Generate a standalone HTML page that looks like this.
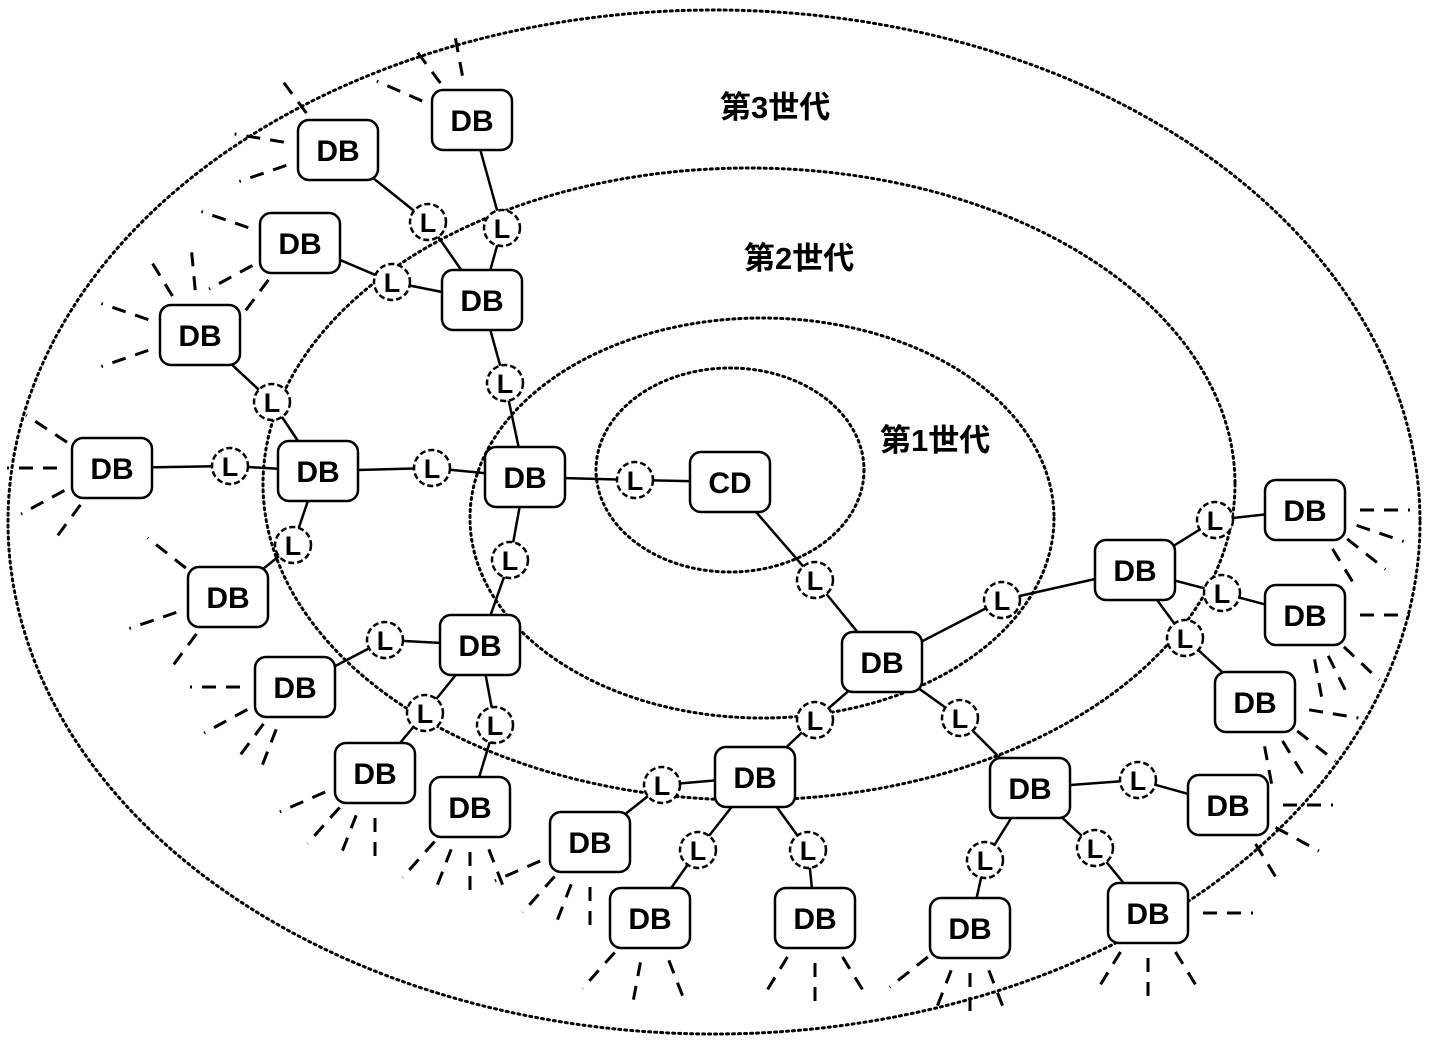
<!DOCTYPE html>
<html><head><meta charset="utf-8"><style>
html,body{margin:0;padding:0;background:#fff}
svg{display:block}
.db{font-family:"Liberation Sans",sans-serif;font-weight:bold;font-size:30px}
.ll{font-family:"Liberation Sans",sans-serif;font-weight:bold;font-size:27px}
.lab{font-family:"Liberation Sans","Noto Sans CJK JP",sans-serif;font-weight:bold;font-size:31px}
</style></head><body>
<svg id="s" width="1432" height="1044" viewBox="0 0 1432 1044" xmlns="http://www.w3.org/2000/svg">
<g fill="none" stroke="#000" stroke-width="3" stroke-dasharray="2 4" stroke-linecap="round">
<ellipse cx="730" cy="470" rx="134" ry="102"/>
<ellipse cx="762" cy="518" rx="292" ry="200"/>
<ellipse cx="749" cy="484" rx="486" ry="316"/>
<ellipse cx="714" cy="522" rx="706" ry="512"/>
</g>
<text class="lab" x="720" y="118">第3世代</text>
<text class="lab" x="744" y="269">第2世代</text>
<text class="lab" x="880" y="451">第1世代</text>
<g id="edges" stroke="#000" stroke-width="2.5"></g>
<g id="stubs" stroke="#000" stroke-width="3" stroke-dasharray="14 10"></g>
<g id="nodes"></g>
</svg>
<script>
var N={CD:[730,482],A:[525,477],B:[318,471],C:[112,468],D:[200,335],E:[300,243],F:[338,150],G:[472,120],H:[482,300],I:[228,597],J:[480,645],K:[295,687],L:[375,773],M:[470,807],Nn:[590,842],O:[755,777],P:[650,918],Q:[815,918],R:[882,662],S:[1135,570],T:[1305,510],U:[1305,615],V:[1255,702],W:[1030,788],X:[1228,805],Y:[970,928],Z:[1148,913]};
var E=[["CD","A",635,480],["CD","R",815,580],["A","B",432,468],["B","C",230,466],["B","D",272,402],["B","I",293,545],["A","H",505,383],["H","E",392,282],["H","F",428,222],["H","G",502,228],["A","J",510,560],["J","K",385,640],["J","L",425,713],["J","M",495,725],["R","O",815,720],["O","Nn",662,785],["O","P",698,850],["O","Q",808,850],["R","W",960,718],["R","S",1002,600],["S","T",1215,520],["S","U",1222,593],["S","V",1185,638],["W","X",1138,780],["W","Y",985,860],["W","Z",1095,848]];
var ST={G:[235,260,205],F:[190,160,235],E:[200,150,125],D:[200,160,240,265],C:[180,150,215,125],I:[220,160,125],K:[180,150,125,110],L:[155,130,90,110],M:[130,90,110,70],Nn:[155,130,110,90],P:[130,100,70],Q:[120,90,60],Y:[140,110,70,90],Z:[0,90,60,120],X:[30,0,60],V:[10,40,60,80],U:[0,45,65,80],T:[0,20,40,60]};
var ns="http://www.w3.org/2000/svg";
function el(p,t,a,txt){var e=document.createElementNS(ns,t);for(var k in a)e.setAttribute(k,a[k]);if(txt)e.textContent=txt;p.appendChild(e);return e;}
var ge=document.getElementById("edges"),gs=document.getElementById("stubs"),gn=document.getElementById("nodes");
E.forEach(function(e){var a=N[e[0]],b=N[e[1]];el(ge,"line",{x1:a[0],y1:a[1],x2:e[2],y2:e[3]});el(ge,"line",{x1:e[2],y1:e[3],x2:b[0],y2:b[1]});});
for(var k in ST){var c=N[k];ST[k].forEach(function(d){var r=d*Math.PI/180,cs=Math.cos(r),sn=Math.sin(r);el(gs,"line",{x1:c[0]+cs*55,y1:c[1]+sn*45,x2:c[0]+cs*105,y2:c[1]+sn*92});});}
E.forEach(function(e){el(gn,"circle",{cx:e[2],cy:e[3],r:18,fill:"#fff",stroke:"#000","stroke-width":2.5,"stroke-dasharray":"6 3"});el(gn,"text",{x:e[2],y:e[3]+10,"text-anchor":"middle","class":"ll"},"L");});
for(var k in N){var c=N[k];el(gn,"rect",{x:c[0]-40,y:c[1]-30,width:80,height:60,rx:11,fill:"#fff",stroke:"#000","stroke-width":2.5});el(gn,"text",{x:c[0],y:c[1]+11,"text-anchor":"middle","class":"db"},k=="CD"?"CD":"DB");}
</script>
</body></html>
